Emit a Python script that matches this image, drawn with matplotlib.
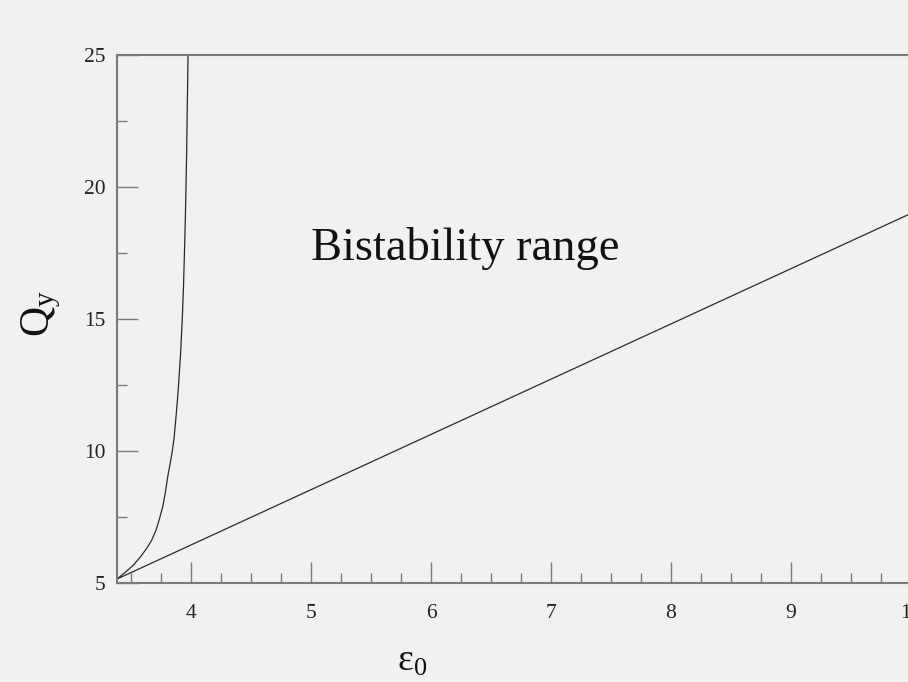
import matplotlib
matplotlib.use('Agg')
import matplotlib.pyplot as plt
from matplotlib.ticker import MultipleLocator
import numpy as np

plt.rcParams['font.family'] = ['Liberation Serif', 'DejaVu Serif']
plt.rcParams['mathtext.fontset'] = 'custom'
plt.rcParams['mathtext.rm'] = 'Liberation Serif'

# left boundary of the bistability region
eps_left = [3.383, 3.45, 3.52, 3.58, 3.63, 3.67, 3.708, 3.735, 3.764, 3.785, 3.806, 3.825,
            3.843, 3.859, 3.873, 3.886, 3.896, 3.913, 3.927, 3.937, 3.945, 3.952, 3.958,
            3.963, 3.967, 3.971, 3.975]
q_left = [5.15, 5.4, 5.68, 6.0, 6.31, 6.6, 7.0, 7.4, 7.89, 8.4, 9.03, 9.5,
          9.97, 10.5, 11.2, 11.9, 12.5, 13.7, 15.0, 16.2, 17.5, 18.7, 20.0,
          21.2, 22.5, 23.7, 25.0]

# right boundary (straight line)
eps_right = [3.383, 10.0]
q_right = [5.15, 19.0]

xticks = [4, 5, 6, 7, 8, 9, 10]
yticks = [5, 10, 15, 20, 25]

bg = '#f1f1f1'
axcol = '#7a7a7a'
linecol = '#2a2a2a'

fig = plt.figure(figsize=(9.08, 6.82), dpi=100)
fig.patch.set_facecolor(bg)
ax = fig.add_axes([117/908, 99/682, 794/908, 528/682])
ax.set_facecolor(bg)

ax.plot(eps_left, q_left, color=linecol, linewidth=0.9)
ax.plot(eps_right, q_right, color=linecol, linewidth=0.9)

ax.set_xlim(3.383, 10)
ax.set_ylim(5, 25)
ax.set_xticks(xticks)
ax.set_yticks(yticks)
ax.xaxis.set_minor_locator(MultipleLocator(0.25))
ax.yaxis.set_minor_locator(MultipleLocator(2.5))

ax.tick_params(which='both', direction='in', color=axcol, width=1.0,
               labelsize=15.5, labelcolor='#222222', top=False, right=False)
ax.tick_params(which='major', length=15)
ax.tick_params(which='minor', length=7.5)
ax.tick_params(axis='x', pad=15)
ax.tick_params(axis='y', pad=8)

for s in ['left', 'bottom', 'top']:
    ax.spines[s].set_color(axcol)
    ax.spines[s].set_linewidth(1.5)
ax.spines['right'].set_visible(False)

ax.text(5.0, 17.25, 'Bistability range', fontsize=33.5, color='#111111',
        ha='left', va='baseline')

ax.set_ylabel(r'$\mathregular{Q_y}$', fontsize=30, color='#111111')
ax.yaxis.set_label_coords(-0.068, 0.51)
ax.set_xlabel(r'$\mathregular{ε_0}$', fontsize=27, color='#111111', va='top')
ax.xaxis.set_label_coords(0.372, -0.115)

fig.savefig('out.png', dpi=100, facecolor=bg)
